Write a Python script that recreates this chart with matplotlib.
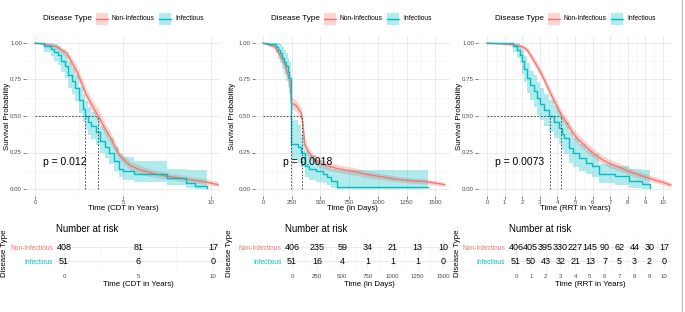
import matplotlib.pyplot as plt
from matplotlib.patches import Rectangle
from matplotlib.lines import Line2D

plt.rcParams['font.family'] = ['Liberation Sans', 'DejaVu Sans']

RED = '#F8766D'
TEAL = '#00BFC4'
GREY = '#4D4D4D'
W, H = 685, 312

# ---- panel 1: CDT in years ----
cdt_non_t = [0, 0.6, 1.2, 1.8, 2.4, 2.9, 3.3, 3.6, 4.0, 4.3, 4.8, 5.4, 6.0, 6.6, 7.4, 8.2, 9.0, 9.6, 10.0, 10.4]
cdt_non_s = [1.0, 0.99, 0.977, 0.93, 0.80, 0.65, 0.56, 0.50, 0.41, 0.35, 0.23, 0.16, 0.13, 0.11, 0.09, 0.075, 0.06, 0.05, 0.04, 0.03]
cdt_non_lo = [1.0, 0.98, 0.96, 0.90, 0.76, 0.61, 0.52, 0.46, 0.37, 0.31, 0.20, 0.13, 0.10, 0.085, 0.068, 0.055, 0.042, 0.033, 0.025, 0.018]
cdt_non_hi = [1.0, 1.0, 0.99, 0.955, 0.84, 0.69, 0.60, 0.55, 0.45, 0.39, 0.26, 0.19, 0.16, 0.135, 0.115, 0.10, 0.082, 0.072, 0.062, 0.05]

cdt_inf_t = [0, 0.5, 0.9, 1.1, 1.3, 1.5, 1.7, 1.9, 2.1, 2.3, 2.5, 2.7, 2.85, 3.0, 3.2, 3.45, 3.7, 3.95, 4.2, 4.5, 4.8, 5.0, 5.6, 7.5, 8.6, 9.1, 9.75]
cdt_inf_s = [1.0, 0.98, 0.96, 0.94, 0.92, 0.88, 0.84, 0.78, 0.74, 0.69, 0.61, 0.55, 0.50, 0.46, 0.43, 0.39, 0.33, 0.29, 0.25, 0.19, 0.14, 0.12, 0.10, 0.075, 0.04, 0.02, 0.01]
cdt_inf_lo = [1.0, 0.94, 0.91, 0.88, 0.85, 0.80, 0.76, 0.69, 0.65, 0.60, 0.52, 0.46, 0.41, 0.37, 0.34, 0.30, 0.25, 0.21, 0.17, 0.12, 0.08, 0.06, 0.05, 0.03, 0.01, 0.0, 0.0]
cdt_inf_hi = [1.0, 1.0, 1.0, 0.99, 0.98, 0.95, 0.92, 0.87, 0.83, 0.78, 0.70, 0.65, 0.60, 0.56, 0.53, 0.49, 0.43, 0.39, 0.35, 0.29, 0.24, 0.22, 0.19, 0.14, 0.13, 0.13, 0.13]

cdt_medians = [2.85, 3.6]
cdt_risk_t = [0, 5, 10]
cdt_risk_non = [408, 81, 17]
cdt_risk_inf = [51, 6, 0]

# ---- panel 2: days ----
day_non_t = [0, 60, 100, 130, 160, 190, 218, 235, 247, 290, 333, 347, 362, 390, 440, 505, 580, 648, 720, 791, 900, 1020, 1120, 1221, 1320, 1421, 1500, 1580]
day_non_s = [1.0, 0.985, 0.977, 0.94, 0.90, 0.85, 0.78, 0.74, 0.59, 0.57, 0.52, 0.45, 0.31, 0.26, 0.21, 0.17, 0.155, 0.14, 0.13, 0.12, 0.10, 0.085, 0.072, 0.062, 0.055, 0.05, 0.04, 0.03]
day_non_lo = [1.0, 0.975, 0.96, 0.92, 0.875, 0.82, 0.75, 0.70, 0.55, 0.53, 0.48, 0.41, 0.27, 0.225, 0.18, 0.14, 0.128, 0.115, 0.105, 0.095, 0.078, 0.065, 0.053, 0.045, 0.038, 0.033, 0.025, 0.017]
day_non_hi = [1.0, 0.995, 0.99, 0.96, 0.925, 0.88, 0.81, 0.78, 0.63, 0.61, 0.56, 0.49, 0.35, 0.295, 0.24, 0.20, 0.185, 0.168, 0.157, 0.147, 0.125, 0.108, 0.093, 0.082, 0.074, 0.069, 0.058, 0.045]

day_inf_t = [0, 40, 80, 110, 130, 150, 170, 185, 200, 215, 230, 247, 304, 330, 362, 400, 462, 519, 560, 590, 648, 1436]
day_inf_s = [1.0, 0.995, 0.99, 0.97, 0.95, 0.93, 0.90, 0.87, 0.84, 0.80, 0.76, 0.31, 0.29, 0.25, 0.16, 0.14, 0.12, 0.10, 0.08, 0.055, 0.015, 0.015]
day_inf_lo = [1.0, 0.98, 0.97, 0.93, 0.89, 0.86, 0.82, 0.78, 0.74, 0.70, 0.65, 0.20, 0.18, 0.15, 0.08, 0.065, 0.05, 0.04, 0.025, 0.01, 0.0, 0.0]
day_inf_hi = [1.0, 1.0, 1.0, 1.0, 1.0, 0.99, 0.97, 0.95, 0.93, 0.90, 0.87, 0.47, 0.44, 0.37, 0.26, 0.23, 0.20, 0.17, 0.155, 0.14, 0.13, 0.13]

day_medians = [247, 341]
day_risk_t = [0, 250, 500, 750, 1000, 1250, 1500]
day_risk_non = [406, 235, 59, 34, 21, 13, 10]
day_risk_inf = [51, 16, 4, 1, 1, 1, 0]

# ---- panel 3: RRT in years ----
rrt_non_t = [0, 1.42, 1.99, 2.3, 2.56, 2.85, 3.13, 3.4, 3.69, 4.0, 4.26, 4.55, 4.83, 5.1, 5.4, 5.8, 6.15, 6.5, 6.9, 7.4, 7.86, 8.3, 8.8, 9.2, 9.56, 10.0, 10.45]
rrt_non_s = [1.0, 0.99, 0.977, 0.95, 0.90, 0.84, 0.78, 0.71, 0.635, 0.56, 0.50, 0.45, 0.395, 0.35, 0.315, 0.27, 0.235, 0.205, 0.178, 0.155, 0.132, 0.11, 0.09, 0.075, 0.06, 0.045, 0.026]
rrt_non_lo = [1.0, 0.98, 0.962, 0.93, 0.875, 0.81, 0.75, 0.68, 0.60, 0.525, 0.465, 0.415, 0.36, 0.315, 0.282, 0.238, 0.205, 0.176, 0.15, 0.128, 0.107, 0.087, 0.068, 0.055, 0.041, 0.028, 0.012]
rrt_non_hi = [1.0, 1.0, 0.99, 0.97, 0.925, 0.87, 0.81, 0.74, 0.67, 0.595, 0.535, 0.485, 0.43, 0.385, 0.35, 0.303, 0.267, 0.235, 0.207, 0.183, 0.158, 0.134, 0.113, 0.097, 0.082, 0.066, 0.045]

rrt_inf_t = [0, 1.5, 1.7, 1.85, 1.99, 2.13, 2.27, 2.45, 2.65, 2.85, 3.03, 3.25, 3.5, 3.8, 4.07, 4.25, 4.4, 4.64, 4.9, 5.21, 5.6, 5.97, 6.35, 7.3, 8.05, 8.8, 9.28]
rrt_inf_s = [1.0, 0.98, 0.955, 0.92, 0.875, 0.82, 0.76, 0.71, 0.67, 0.62, 0.58, 0.54, 0.50, 0.46, 0.42, 0.38, 0.35, 0.28, 0.25, 0.21, 0.18, 0.155, 0.10, 0.09, 0.055, 0.035, 0.01]
rrt_inf_lo = [1.0, 0.94, 0.90, 0.86, 0.79, 0.73, 0.66, 0.61, 0.56, 0.51, 0.47, 0.43, 0.39, 0.35, 0.31, 0.27, 0.24, 0.18, 0.15, 0.12, 0.10, 0.08, 0.04, 0.03, 0.01, 0.0, 0.0]
rrt_inf_hi = [1.0, 1.0, 1.0, 0.98, 0.95, 0.91, 0.86, 0.81, 0.78, 0.73, 0.69, 0.65, 0.61, 0.57, 0.53, 0.49, 0.46, 0.39, 0.35, 0.31, 0.27, 0.24, 0.17, 0.16, 0.14, 0.13, 0.13]

rrt_medians = [3.56, 4.22]
rrt_risk_t = list(range(11))
rrt_risk_non = [406, 405, 395, 330, 227, 145, 90, 62, 44, 30, 17]
rrt_risk_inf = [51, 50, 43, 32, 21, 13, 7, 5, 3, 2, 0]

fig = plt.figure(figsize=(6.85, 3.12), dpi=100)


def px_axes(l, t, r, b):
    return fig.add_axes([l / W, 1 - b / H, (r - l) / W, (b - t) / H])


def ftext(x, y, s, **kw):
    fig.text(x / W, 1 - y / H, s, **kw)


def grid_style(ax):
    for sp in ax.spines.values():
        sp.set_visible(False)
    ax.grid(True, which='major', color='#EBEBEB', lw=0.7)
    ax.grid(True, which='minor', color='#F2F2F2', lw=0.4)
    ax.set_axisbelow(True)
    ax.tick_params(which='minor', length=0)
    ax.tick_params(which='major', labelsize=4.4, labelcolor=GREY, color=GREY,
                   length=2, width=0.5, pad=1)


def km_panel(box, xlim, xmaj, xmin, pval, px, curves, medians):
    ax = px_axes(*box)
    for t, s, lo, hi, c, stepped in curves:
        if stepped:
            ax.fill_between(t, lo, hi, step='post', color=c, alpha=0.3, lw=0)
            ax.step(t, s, where='post', color=c, lw=1)
        else:
            ax.fill_between(t, lo, hi, color=c, alpha=0.3, lw=0)
            ax.plot(t, s, color=c, lw=1)
    dash = dict(color='#333333', lw=0.6, ls=(0, (2, 2)))
    ax.plot([0, max(medians)], [0.5, 0.5], **dash)
    for m in medians:
        ax.plot([m, m], [0, 0.5], **dash)
    ax.text(px, 0.185, pval, fontsize=7.5, ha='left', va='center')
    ax.set_xlim(*xlim)
    ax.set_ylim(-0.05, 1.05)
    ax.set_xticks(xmaj)
    ax.set_xticks(xmin, minor=True)
    ax.set_xticklabels([str(v) for v in xmaj])
    ax.set_yticks([0, 0.25, 0.5, 0.75, 1.0])
    ax.set_yticks([0.125, 0.375, 0.625, 0.875], minor=True)
    ax.set_yticklabels(['0.00', '0.25', '0.50', '0.75', '1.00'])
    grid_style(ax)
    return ax


def risk_panel(box, xlim, ticks, minor, non, inf):
    ax = px_axes(*box)
    for t, n in zip(ticks, non):
        ax.text(t, 2, str(n), ha='center', va='center', fontsize=6.5)
    for t, n in zip(ticks, inf):
        ax.text(t, 1, str(n), ha='center', va='center', fontsize=6.5)
    ax.set_xlim(*xlim)
    ax.set_ylim(0.4, 2.6)
    ax.set_xticks(ticks)
    ax.set_xticks(minor, minor=True)
    ax.set_xticklabels([str(v) for v in ticks])
    ax.set_yticks([1, 2])
    ax.set_yticklabels(['Infectious', 'Non-Infectious'])
    grid_style(ax)
    ax.tick_params(axis='x', length=0, pad=3)
    ax.tick_params(axis='y', length=0, pad=2.5, labelsize=4.8)
    ax.get_yticklabels()[0].set_color(TEAL)
    ax.get_yticklabels()[1].set_color(RED)
    return ax


def legend(x0):
    ftext(x0, 19, 'Disease Type', fontsize=5.9, ha='left', va='center')
    for off, loff, c, lab in [(53, 69, RED, 'Non-Infectious'), (116, 132, TEAL, 'Infectious')]:
        k = x0 + off
        fig.add_artist(Rectangle((k / W, 1 - 25 / H), 12 / W, 12 / H,
                                 transform=fig.transFigure, color=c, alpha=0.3, lw=0))
        fig.add_artist(Line2D([k / W, (k + 12) / W], [1 - 19 / H, 1 - 19 / H],
                              transform=fig.transFigure, color=c, lw=1))
        ftext(x0 + loff, 19, lab, fontsize=4.8, ha='left', va='center')


panels = [
    dict(main=(26.2, 35.7, 219.8, 196.3), xlim=(-0.5, 10.5), xmaj=[0, 5, 10], xmin=[2.5, 7.5],
         pval='p = 0.012', px=0.45, medians=cdt_medians,
         curves=[(cdt_non_t, cdt_non_s, cdt_non_lo, cdt_non_hi, RED, False),
                 (cdt_inf_t, cdt_inf_s, cdt_inf_lo, cdt_inf_hi, TEAL, True)],
         xlabel='Time (CDT in Years)',
         risk=(56.5, 238.6, 220.5, 269.4), rt=cdt_risk_t, rmin=[2.5, 7.5],
         rnon=cdt_risk_non, rinf=cdt_risk_inf, leg=43, ylab=8),
    dict(main=(254.9, 35.7, 449.8, 196.3), xlim=(-70, 1610), xmaj=day_risk_t,
         xmin=[125, 375, 625, 875, 1125, 1375, 1625],
         pval='p = 0.0018', px=172, medians=day_medians,
         curves=[(day_non_t, day_non_s, day_non_lo, day_non_hi, RED, False),
                 (day_inf_t, day_inf_s, day_inf_lo, day_inf_hi, TEAL, True)],
         xlabel='Time (in Days)',
         risk=(285.0, 238.6, 454.0, 269.4), rt=day_risk_t,
         rmin=[125, 375, 625, 875, 1125, 1375], rnon=day_risk_non, rinf=day_risk_inf,
         leg=271, ylab=233),
    dict(main=(478.2, 35.7, 671.8, 196.3), xlim=(-0.5, 10.5), xmaj=rrt_risk_t,
         xmin=[v + 0.5 for v in range(10)],
         pval='p = 0.0073', px=0.45, medians=rrt_medians,
         curves=[(rrt_non_t, rrt_non_s, rrt_non_lo, rrt_non_hi, RED, False),
                 (rrt_inf_t, rrt_inf_s, rrt_inf_lo, rrt_inf_hi, TEAL, True)],
         xlabel='Time (RRT in Years)',
         risk=(508.6, 238.6, 671.4, 269.4), rt=rrt_risk_t,
         rmin=[v + 0.5 for v in range(10)], rnon=rrt_risk_non, rinf=rrt_risk_inf,
         leg=495, ylab=460),
]

for p in panels:
    l, t, r, b = p['main']
    km_panel(p['main'], p['xlim'], p['xmaj'], p['xmin'], p['pval'], p['px'],
             p['curves'], p['medians'])
    ftext(p['ylab'], (t + b) / 2, 'Survival Probability', fontsize=5.65,
          rotation=90, ha='center', va='center')
    ftext((l + r) / 2, 208, p['xlabel'], fontsize=5.65, ha='center', va='center')
    legend(p['leg'])

    rl, rtp, rr, rb = p['risk']
    risk_panel(p['risk'], p['xlim'], p['rt'], p['rmin'], p['rnon'], p['rinf'])
    ftext(rl, 229, 'Number at risk', fontsize=6.9, ha='left', va='center')
    ftext((rl + rr) / 2, 285, p['xlabel'], fontsize=5.65, ha='center', va='center')
    ftext(p['ylab'] - 3, 253, 'Disease Type', fontsize=5.65, rotation=90,
          ha='center', va='center')

fig.add_artist(Line2D([682 / W, 682 / W], [0, 1], transform=fig.transFigure,
                      color='#BBBBBB', lw=0.8))

fig.savefig('out.png', dpi=100)
